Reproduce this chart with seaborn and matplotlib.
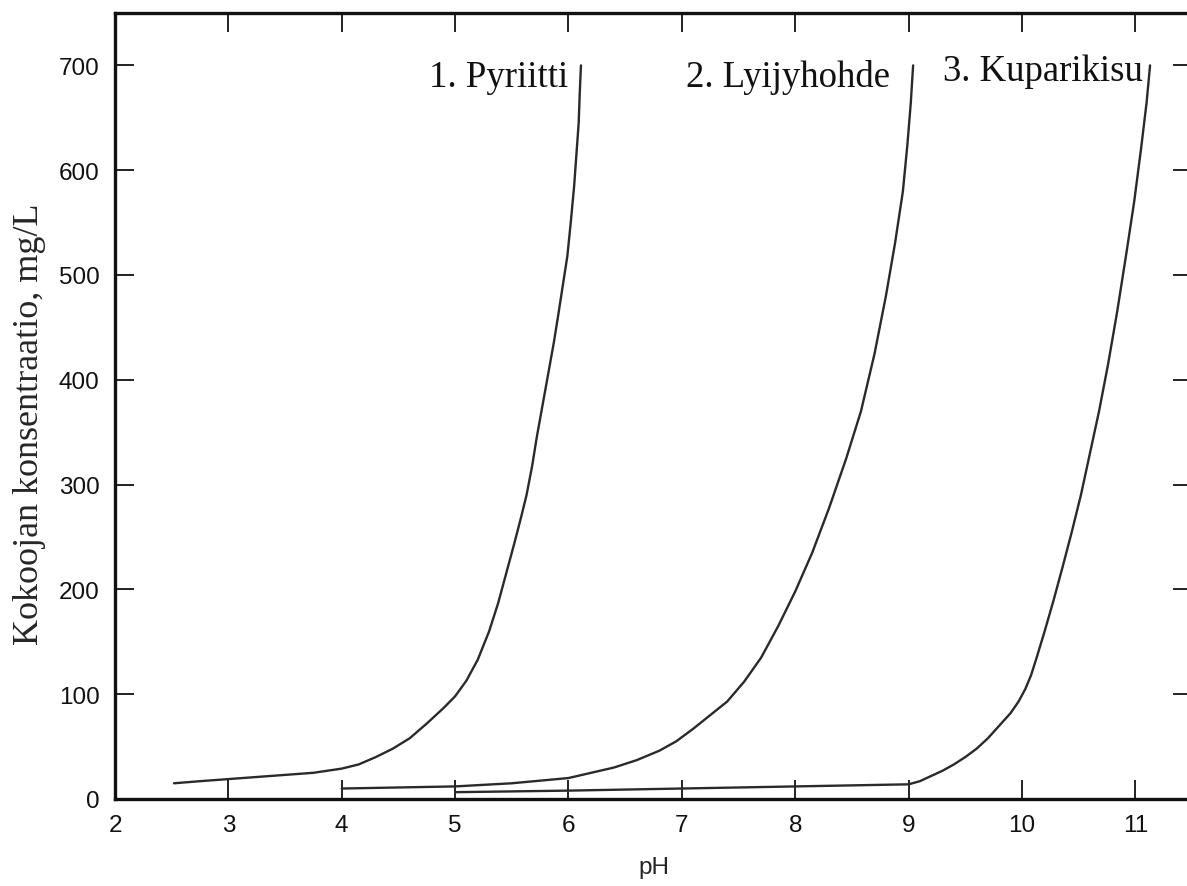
import numpy as np
import pandas as pd
import matplotlib
matplotlib.use("Agg")
import matplotlib.pyplot as plt
import seaborn as sns

# ---- data ----
pyriitti_ph = [2.52, 2.75, 3.0, 3.25, 3.5, 3.75, 4.0, 4.15, 4.3, 4.45, 4.6, 4.75, 4.9, 5.0, 5.1, 5.2, 5.3,
               5.38, 5.45, 5.52, 5.58, 5.63, 5.68, 5.72, 5.77, 5.82, 5.87, 5.91, 5.95, 5.99, 6.02, 6.05,
               6.07, 6.09, 6.1, 6.11]
pyriitti_c = [15, 17, 19, 21, 23, 25, 29, 33, 40, 48, 58, 72, 87, 98, 113, 133, 160, 187, 215, 243, 268,
              290, 318, 345, 375, 405, 435, 462, 490, 518, 550, 585, 615, 645, 675, 700]

lyijy_ph = [4.0, 4.5, 5.0, 5.5, 5.8, 6.0, 6.2, 6.4, 6.6, 6.8, 6.95, 7.1, 7.25, 7.4, 7.55, 7.7, 7.85, 8.0,
            8.15, 8.3, 8.45, 8.58, 8.7, 8.8, 8.88, 8.95, 8.99, 9.02, 9.04]
lyijy_c = [10, 11, 12, 15, 18, 20, 25, 30, 37, 46, 55, 67, 80, 93, 112, 135, 165, 198, 235, 278, 325, 370,
           425, 480, 530, 580, 625, 665, 700]

kupari_ph = [5.0, 6.0, 7.0, 8.0, 9.0, 9.1, 9.2, 9.3, 9.4, 9.5, 9.6, 9.7, 9.8, 9.9, 9.97, 10.03, 10.08,
             10.13, 10.2, 10.28, 10.36, 10.44, 10.52, 10.6, 10.68, 10.76, 10.84, 10.92, 10.99, 11.05, 11.1, 11.13]
kupari_c = [6.5, 8, 10, 12, 14, 17, 22, 27, 33, 40, 48, 58, 70, 82, 93, 105, 118, 135, 160, 190, 222, 255,
            290, 330, 370, 415, 465, 520, 570, 620, 665, 700]

labels = ["1. Pyriitti", "2. Lyijyhohde", "3. Kuparikisu"]
label_pos = [(6.0, 680), (8.84, 680), (11.07, 686)]

x_ticks = [2, 3, 4, 5, 6, 7, 8, 9, 10, 11]
y_ticks = [0, 100, 200, 300, 400, 500, 600, 700]

df = pd.concat([
    pd.DataFrame({"pH": pyriitti_ph, "c": pyriitti_c, "s": labels[0]}),
    pd.DataFrame({"pH": lyijy_ph, "c": lyijy_c, "s": labels[1]}),
    pd.DataFrame({"pH": kupari_ph, "c": kupari_c, "s": labels[2]}),
], ignore_index=True)

sns.set_style("ticks")
plt.rcParams["font.family"] = ["Liberation Sans", "DejaVu Sans"]

fig = plt.figure(figsize=(11.87, 8.87), dpi=100)
ax = fig.add_axes([115/1187, 1 - 800/887, 1077/1187, 786/887])

sns.lineplot(data=df, x="pH", y="c", hue="s", units="s", estimator=None, sort=False,
             palette=["#2a2a2a"] * 3, linewidth=1.7, legend=False, ax=ax)

ax.set_xlim(2, 11.5)
ax.set_ylim(0, 750)
ax.set_xticks(x_ticks)
ax.set_yticks(y_ticks)
ax.tick_params(direction="in", length=14, width=1.3, top=True, right=True,
               labelsize=17.5, colors="#111111", pad=11)
ax.tick_params(axis="y", pad=11)
for sp in ax.spines.values():
    sp.set_linewidth(2.4)
    sp.set_color("#111111")

ax.set_xlabel("pH", fontsize=17.5, labelpad=14)
ax.set_ylabel("Kokoojan konsentraatio, mg/L", fontsize=26, family=["Liberation Serif", "DejaVu Serif"])
ax.yaxis.set_label_coords(-0.064, 0.478)

for lab, (lx, ly) in zip(labels, label_pos):
    ax.text(lx, ly, lab, ha="right", va="baseline", fontsize=26.5,
            family=["Liberation Serif", "DejaVu Serif"], color="#111111")

fig.savefig("out.png", dpi=100, facecolor="white")
